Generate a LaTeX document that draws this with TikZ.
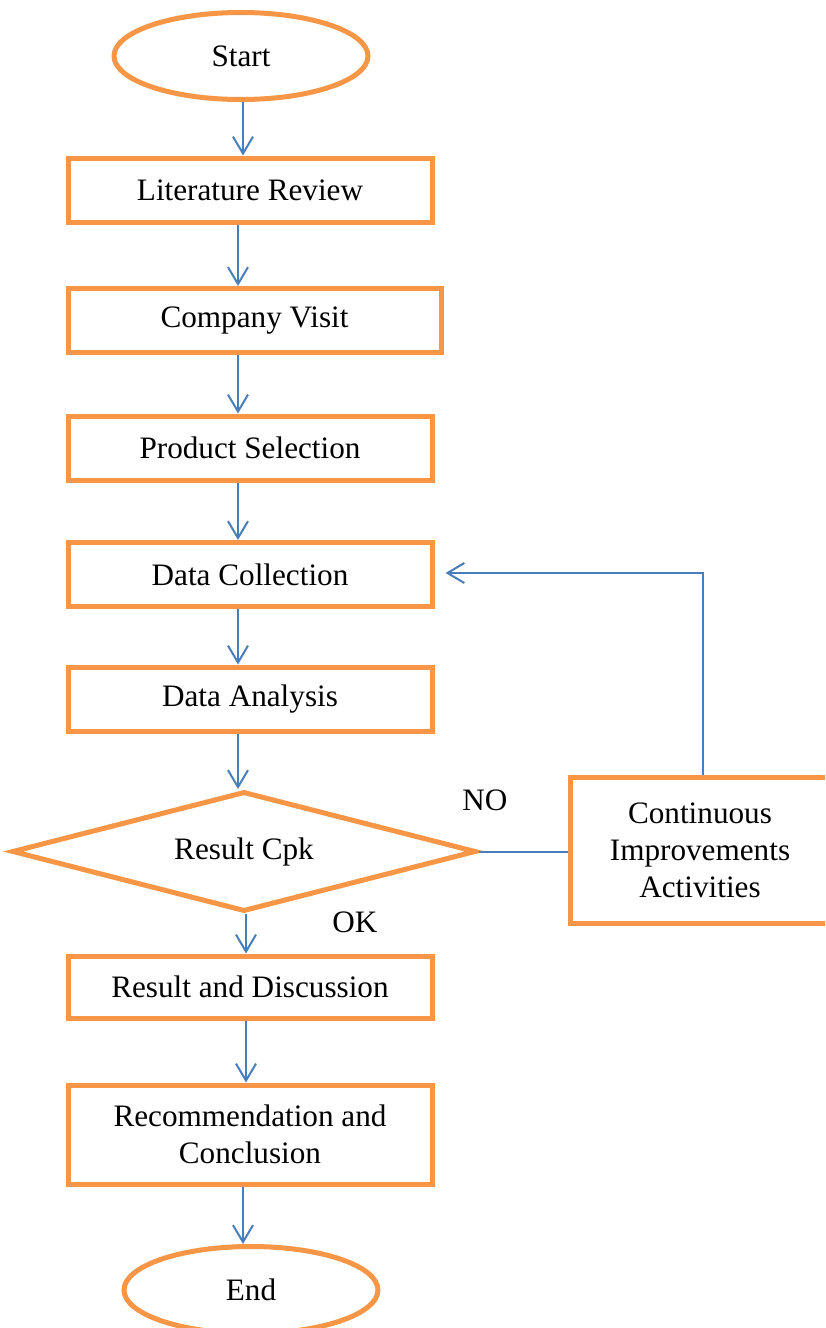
\documentclass[tikz,border=0pt]{standalone}
\usepackage{fontspec}
\setmainfont{Liberation Serif}
\usetikzlibrary{shapes.geometric,arrows.meta}
\definecolor{borange}{HTML}{F79646}
\definecolor{ablue}{HTML}{4A7EBB}
\def\U{0.3846pt}
\begin{document}
\begin{tikzpicture}[x=0.3846pt,y=-0.3846pt,
  every node/.style={font=\fontsize{12}{14}\selectfont, text=black},
  stepbox/.style={draw=borange, line width=5*\U, rectangle, inner sep=0pt, minimum width=364*\U, minimum height=64*\U, align=center},
  term/.style={draw=borange, line width=5*\U, ellipse, inner sep=0pt, minimum width=254*\U, minimum height=87*\U},
  decision/.style={draw=borange, line width=5*\U, diamond, shape aspect=3.87, inner sep=0pt, minimum width=464*\U, minimum height=120*\U},
  arr/.style={draw=ablue, line width=2*\U, -{Straight Barb[length=6.5pt,width=7.7pt]}},
  conn/.style={draw=ablue, line width=2*\U},
  lbl/.style={inner sep=0pt}]
\path[use as bounding box] (0,0) rectangle (825,1328);
\clip (0,0) rectangle (825,1328);
\node[term] (start) at (241,56) {Start};
\node[stepbox] (lit) at (250,190) {Literature Review};
\node[stepbox, minimum width=373*\U] (comp) at (254.5,320.5) {Company Visit};
\node[stepbox] (prod) at (250,448) {Product Selection};
\node[stepbox] (coll) at (250,574.5) {Data Collection};
\node[stepbox] (anal) at (250,699) {Data Analysis};
\node[decision] (dec) at (244,851.5) {Result Cpk};
\node[stepbox, minimum height=62*\U] (res) at (250,987) {Result and Discussion};
\node[stepbox, minimum height=99*\U, font=\fontsize{12}{14.1}\selectfont] (rec) at (250,1134.5) {Recommendation and\\Conclusion};
\node[term] (end) at (251,1290) {End};
\node[stepbox, minimum width=260*\U, minimum height=146*\U, font=\fontsize{12}{14.3}\selectfont] (cont) at (700,850) {Continuous\\Improvements\\Activities};
\node[lbl] (no) at (485,800) {NO};
\node[lbl] (ok) at (355,922) {OK};
\draw[arr] (start.south -| 243,0) -- (lit.north -| 243,0);
\draw[arr] (lit.south -| 238,0) -- (comp.north -| 238,0);
\draw[arr] (comp.south -| 238,0) -- (prod.north -| 238,0);
\draw[arr] (prod.south -| 238,0) -- (coll.north -| 238,0);
\draw[arr] (coll.south -| 238,0) -- (anal.north -| 238,0);
\draw[arr] (anal.south -| 238,0) -- (dec.north -| 238,0);
\draw[arr] (dec.south -| 246,0) -- (res.north -| 246,0);
\draw[arr] (res.south -| 246,0) -- (rec.north -| 246,0);
\draw[arr] (rec.south -| 243,0) -- (end.north -| 243,0);
\draw[conn] (dec.east) -- (dec.east -| cont.west);
\draw[arr] (cont.north -| 703,0) |- ([xshift=11*\U]coll.east |- 0,573);
\end{tikzpicture}
\end{document}
